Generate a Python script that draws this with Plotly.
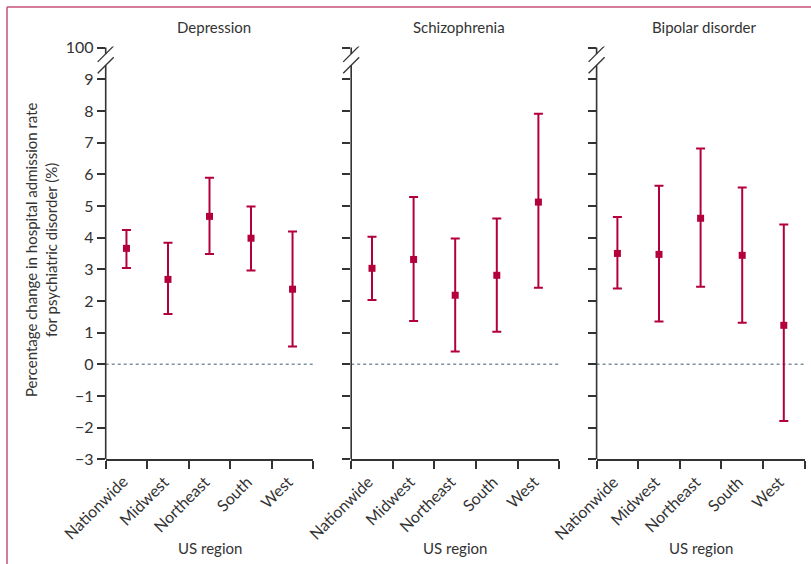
import plotly.graph_objects as go

regions = ["Nationwide", "Midwest", "Northeast", "South", "West"]
panels = ["Depression", "Schizophrenia", "Bipolar disorder"]

dep_est = [3.66, 2.68, 4.67, 3.98, 2.37]
dep_lo = [3.04, 1.59, 3.48, 2.96, 0.56]
dep_hi = [4.24, 3.84, 5.89, 4.98, 4.19]

sch_est = [3.03, 3.31, 2.18, 2.81, 5.12]
sch_lo = [2.03, 1.37, 0.40, 1.03, 2.42]
sch_hi = [4.03, 5.28, 3.97, 4.60, 7.91]

bip_est = [3.50, 3.47, 4.61, 3.44, 1.23]
bip_lo = [2.39, 1.35, 2.45, 1.31, -1.79]
bip_hi = [4.65, 5.64, 6.81, 5.58, 4.41]

ytick_vals = [-3, -2, -1, 0, 1, 2, 3, 4, 5, 6, 7, 8, 9, 10]
ytick_text = ["\u22123", "\u22122", "\u22121", "0", "1", "2", "3", "4", "5", "6", "7", "8", "9", "100"]

series = [(dep_est, dep_lo, dep_hi), (sch_est, sch_lo, sch_hi), (bip_est, bip_lo, bip_hi)]

W, H = 811, 564
FONT = "Lato, 'Open Sans', sans-serif"
RED = "#B3003A"
AX = "#333333"

xdoms = [[105.7 / W, 313.3 / W], [351.2 / W, 559.2 / W], [596.6 / W, 804.6 / W]]
ydom = [(H - 459.3) / H, (H - 46.6) / H]

fig = go.Figure()
layout = dict(
    template="none",
    width=W, height=H, margin=dict(l=0, r=0, t=0, b=0, pad=0, autoexpand=False),
    paper_bgcolor="white", plot_bgcolor="white", showlegend=False,
    font=dict(family=FONT, color=AX, size=15),
)
shapes = []
annotations = []

xs = list(range(len(regions)))
for k, (est, lo, hi) in enumerate(series):
    sfx = "" if k == 0 else str(k + 1)
    xa, ya = "x" + sfx, "y" + sfx
    fig.add_trace(go.Scatter(
        x=xs, y=est, xaxis=xa, yaxis=ya, mode="markers",
        marker=dict(symbol="square", size=7, color=RED),
        error_y=dict(type="data", symmetric=False,
                     array=[h - e for h, e in zip(hi, est)],
                     arrayminus=[e - l for e, l in zip(est, lo)],
                     color=RED, thickness=2, width=4.5),
        cliponaxis=False, hoverinfo="skip",
    ))
    layout["xaxis" + sfx] = dict(
        domain=xdoms[k], anchor=ya, range=[-0.5, 4.5], automargin=False,
        tickvals=[-0.5, 0.5, 1.5, 2.5, 3.5, 4.5], ticktext=[""] * 6,
        ticks="outside", ticklen=8, tickwidth=1.5, tickcolor=AX,
        showline=True, linecolor=AX, linewidth=1.6, showgrid=False, zeroline=False,
    )
    layout["yaxis" + sfx] = dict(
        domain=ydom, anchor=xa, range=[-3, 10.03], automargin=False,
        tickvals=ytick_vals, ticktext=ytick_text, showticklabels=(k == 0),
        ticks="outside", ticklen=8, tickwidth=1.5, tickcolor=AX,
        tickfont=dict(size=16, color=AX, family=FONT),
        showline=False, showgrid=False, zeroline=False,
    )
    xd = xa + " domain"
    # zero reference line
    shapes.append(dict(type="line", xref=xd, yref=ya, x0=0, x1=1, y0=0, y1=0,
                       line=dict(color="#7F9199", width=1.5, dash="3px,3px"), layer="below"))
    # y axis line with break
    shapes.append(dict(type="line", xref=xd, yref=ya, x0=0, x1=0, y0=-3, y1=9.44,
                       line=dict(color=AX, width=1.6)))
    shapes.append(dict(type="line", xref=xd, yref=ya, x0=0, x1=0, y0=9.80, y1=10.0,
                       line=dict(color=AX, width=1.6)))
    for yc in (9.80, 9.44):
        shapes.append(dict(type="line", xref=xd, yref=ya,
                           xsizemode="pixel", xanchor=0, x0=-8, x1=8,
                           ysizemode="pixel", yanchor=yc, y0=-8, y1=8,
                           line=dict(color=AX, width=1.3)))
    # panel title
    annotations.append(dict(text=panels[k], xref=xd, yref="paper", x=0.52, y=(H - 27) / H,
                            showarrow=False, xanchor="center", yanchor="middle",
                            font=dict(size=15, color=AX, family=FONT)))
    # x axis title
    annotations.append(dict(text="US region", xref=xd, yref="paper", x=0.5, y=(H - 548) / H,
                            showarrow=False, xanchor="center", yanchor="middle",
                            font=dict(size=15, color=AX, family=FONT)))
    # rotated category labels
    for i, r in enumerate(regions):
        annotations.append(dict(text=r, xref=xa, yref="paper", x=i + 0.09, y=ydom[0],
                                xshift=3, yshift=-10, showarrow=False, textangle=-45,
                                xanchor="right", yanchor="top",
                                font=dict(size=16, color=AX, family=FONT)))

annotations.append(dict(
    text="Percentage change in hospital admission rate<br>for psychiatric disorder (%)",
    xref="paper", yref="paper", x=41 / W, y=(H - 250) / H, textangle=-90,
    showarrow=False, xanchor="center", yanchor="middle",
    font=dict(size=15, color=AX, family=FONT)))

# outer frame (top and left)
FR = "#C8517A"
shapes.append(dict(type="line", xref="paper", yref="paper", x0=7 / W, x1=1, y0=(H - 7) / H, y1=(H - 7) / H,
                   line=dict(color=FR, width=1.5)))
shapes.append(dict(type="line", xref="paper", yref="paper", x0=7 / W, x1=7 / W, y0=0, y1=(H - 7) / H,
                   line=dict(color=FR, width=1.5)))

layout["shapes"] = shapes
layout["annotations"] = annotations
fig.update_layout(**layout)

post = (
    "document.documentElement.style.margin='0';"
    "document.documentElement.style.padding='0';"
    "document.documentElement.style.overflow='hidden';"
    "document.body.style.margin='0';"
    "document.body.style.padding='0';"
    "document.body.style.overflow='hidden';"
    "var d=document.getElementById('{plot_id}');"
    "d.style.position='fixed';d.style.top='0px';d.style.left='0px';"
)
fig.write_html("out.html", config={"displayModeBar": False}, post_script=post)
